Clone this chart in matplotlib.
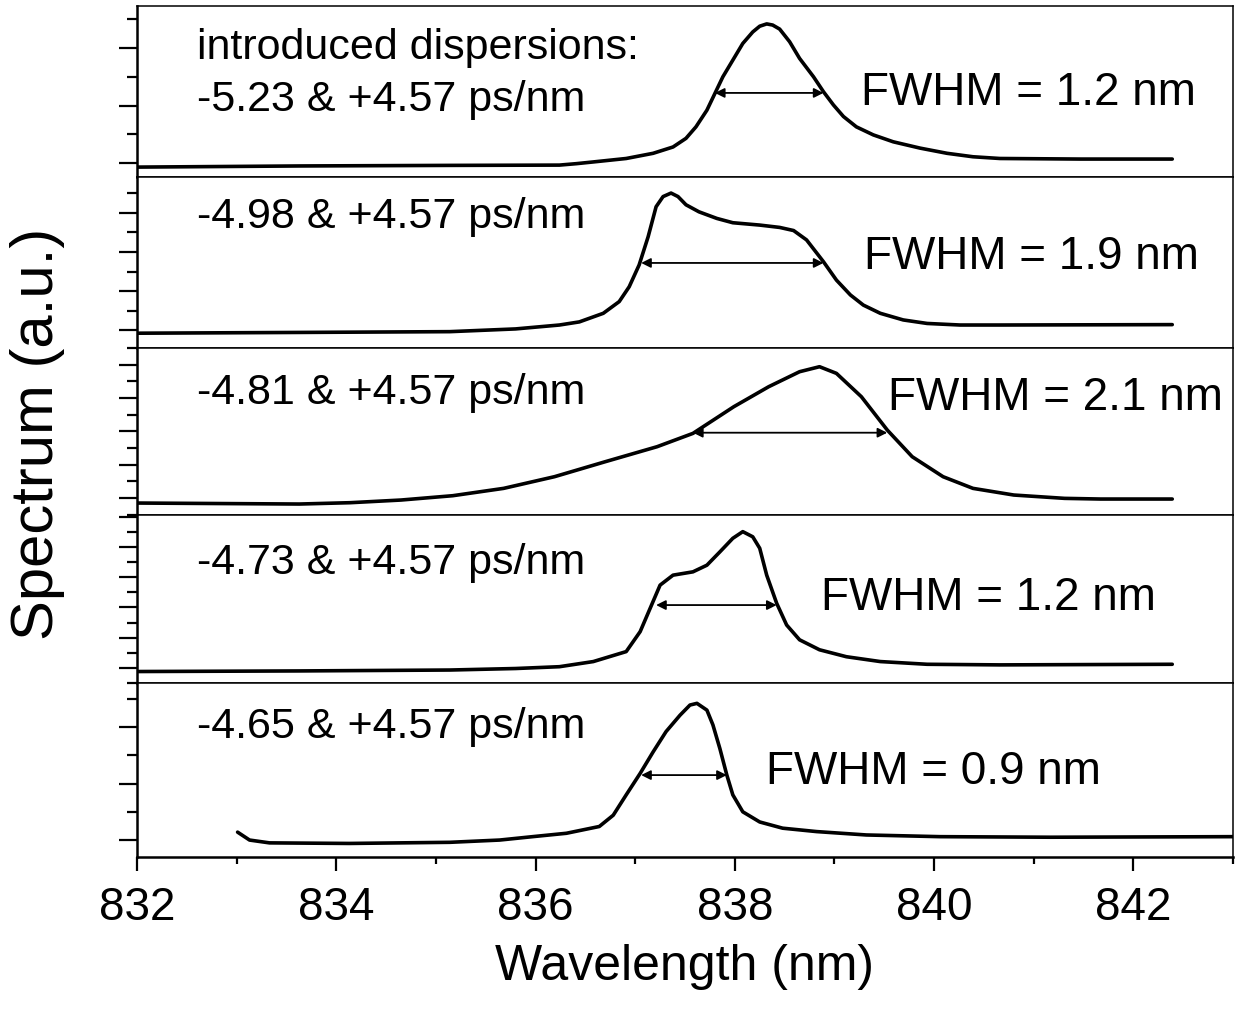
import matplotlib
matplotlib.use("Agg")
import matplotlib.pyplot as plt  # make plots
from matplotlib.ticker import MultipleLocator

# font like the original (Arial-ish)
plt.rcParams['font.family'] = ['Liberation Sans', 'DejaVu Sans']

# ---- data (wavelength in nm, spectrum in a.u.) ----
wl1 = [831.99, 833.63, 835.14, 836.24, 836.41, 836.58, 836.91, 837.18, 837.38, 837.51, 837.61,
       837.72, 837.80, 837.88, 837.98, 838.08, 838.18, 838.25, 838.32, 838.38, 838.45,
       838.55, 838.65, 838.79, 838.89, 838.99, 839.09, 839.22, 839.39, 839.59, 839.86,
       840.13, 840.39, 840.66, 841.47, 842.39]
sp1 = [-0.07, -0.05, -0.04, -0.035, -0.01, 0.02, 0.08, 0.17, 0.28, 0.43, 0.63,
       0.92, 1.21, 1.50, 1.79, 2.08, 2.28, 2.38, 2.42, 2.40, 2.33,
       2.11, 1.82, 1.50, 1.24, 1.01, 0.81, 0.63, 0.49, 0.37, 0.26,
       0.17, 0.11, 0.08, 0.07, 0.07]

wl2 = [831.99, 833.63, 835.14, 835.80, 836.24, 836.44, 836.68, 836.84, 836.94, 837.04, 837.13,
       837.21, 837.28, 837.36, 837.43, 837.51, 837.64, 837.82, 837.98, 838.25, 838.45,
       838.59, 838.72, 838.89, 839.02, 839.16, 839.29, 839.46, 839.69, 839.93, 840.26,
       840.66, 842.39]
sp2 = [-0.08, -0.06, -0.04, 0.03, 0.13, 0.21, 0.43, 0.73, 1.11, 1.67, 2.39,
       3.16, 3.42, 3.51, 3.42, 3.21, 3.03, 2.86, 2.75, 2.69, 2.63,
       2.55, 2.31, 1.75, 1.28, 0.90, 0.64, 0.43, 0.26, 0.17, 0.13,
       0.13, 0.14]

wl3 = [831.99, 833.63, 834.14, 834.65, 835.17, 835.68, 836.19, 836.70, 837.22, 837.58,
       837.99, 838.34, 838.65, 838.85, 839.02, 839.27, 839.53, 839.78, 840.09, 840.39,
       840.80, 841.31, 841.67, 842.39]
sp3 = [-0.15, -0.18, -0.14, -0.06, 0.07, 0.29, 0.64, 1.09, 1.54, 1.94,
       2.74, 3.34, 3.79, 3.94, 3.74, 3.04, 2.04, 1.24, 0.64, 0.29,
       0.09, -0.01, -0.03, -0.03]

wl4 = [831.99, 833.63, 835.14, 835.80, 836.24, 836.58, 836.91, 837.05, 837.15, 837.25, 837.38,
       837.58, 837.72, 837.85, 837.98, 838.08, 838.18, 838.25, 838.32, 838.42, 838.52,
       838.65, 838.85, 839.12, 839.46, 839.93, 840.66, 842.39]
sp4 = [-0.12, -0.10, -0.07, -0.02, 0.04, 0.21, 0.54, 1.20, 1.97, 2.74, 3.07,
       3.18, 3.40, 3.84, 4.29, 4.51, 4.34, 3.96, 3.07, 2.14, 1.42,
       0.93, 0.60, 0.37, 0.21, 0.12, 0.10, 0.12]

wl5 = [833.01, 833.13, 833.33, 834.13, 835.14, 835.64, 835.97, 836.31, 836.64, 836.78,
       836.91, 837.05, 837.18, 837.31, 837.45, 837.55, 837.62, 837.72, 837.78, 837.85,
       837.92, 837.98, 838.08, 838.25, 838.48, 838.82, 839.32, 840.06, 841.17, 843.0]
sp5 = [0.14, 0.0, -0.05, -0.06, -0.04, 0.0, 0.06, 0.12, 0.24, 0.44,
       0.80, 1.18, 1.56, 1.92, 2.21, 2.39, 2.42, 2.30, 2.04, 1.62,
       1.15, 0.80, 0.50, 0.32, 0.21, 0.15, 0.09, 0.06, 0.05, 0.06]

wavelengths = [wl1, wl2, wl3, wl4, wl5]
spectra = [sp1, sp2, sp3, sp4, sp5]

# FWHM arrows: left edge, right edge, height
fwhm_left = [837.80, 837.06, 837.58, 837.21, 837.06]
fwhm_right = [838.89, 838.89, 839.53, 838.42, 837.92]
fwhm_level = [1.22, 1.72, 1.96, 2.08, 1.15]

dispersion_labels = ["-5.23 & +4.57 ps/nm", "-4.98 & +4.57 ps/nm", "-4.81 & +4.57 ps/nm",
                     "-4.73 & +4.57 ps/nm", "-4.65 & +4.57 ps/nm"]
fwhm_labels = ["FWHM = 1.2 nm", "FWHM = 1.9 nm", "FWHM = 2.1 nm",
               "FWHM = 1.2 nm", "FWHM = 0.9 nm"]

# ---- layout of each panel ----
y_limits = [(-0.243, 2.73), (-0.46, 3.92), (-0.51, 4.50), (-0.50, 5.06), (-0.30, 2.78)]
heights = [171, 171, 167, 168, 174]
disp_y = [0.45, 0.766, 0.73, 0.714, 0.747]
fwhm_x = [0.661, 0.663, 0.685, 0.624, 0.574]
fwhm_y = [0.49, 0.532, 0.70, 0.506, 0.489]

fig, axes = plt.subplots(5, 1, figsize=(12.36, 10.13), dpi=100, sharex=True,
                         gridspec_kw={'height_ratios': heights, 'hspace': 0})
fig.subplots_adjust(left=0.1108, right=0.9976, top=0.994, bottom=0.154)

for i, ax in enumerate(axes):
    # spectrum curve
    ax.plot(wavelengths[i], spectra[i], color='black', linewidth=2.6,
            solid_joinstyle='round', solid_capstyle='round')

    # FWHM double arrow
    ax.annotate("", xy=(fwhm_left[i], fwhm_level[i]), xytext=(fwhm_right[i], fwhm_level[i]),
                arrowprops=dict(arrowstyle='<|-|>', color='black', lw=1.3,
                                mutation_scale=14, shrinkA=0, shrinkB=0))

    # labels
    ax.text(0.055, disp_y[i], dispersion_labels[i], transform=ax.transAxes,
            fontsize=31, va='center', ha='left')
    ax.text(fwhm_x[i], fwhm_y[i], fwhm_labels[i], transform=ax.transAxes,
            fontsize=33, va='center', ha='left')

    ax.set_ylim(*y_limits[i])
    ax.set_xlim(832, 843)

    # y ticks: outward, no labels
    ax.yaxis.set_major_locator(MultipleLocator(1))
    ax.yaxis.set_minor_locator(MultipleLocator(0.5))
    ax.tick_params(axis='y', which='major', direction='out', length=13, width=1.6, labelleft=False)
    ax.tick_params(axis='y', which='minor', direction='out', length=7, width=1.6)
    ax.tick_params(axis='x', which='both', bottom=False, labelbottom=False)

    for side in ['top', 'right']:
        ax.spines[side].set_linewidth(1.1)
    ax.spines['left'].set_linewidth(1.8)
    ax.spines['bottom'].set_linewidth(1.1)

# extra first line in the top panel
axes[0].text(0.055, 0.754, "introduced dispersions:", transform=axes[0].transAxes,
             fontsize=31, va='center', ha='left')

# bottom axis ticks
bottom = axes[-1]
bottom.spines['bottom'].set_linewidth(1.8)
bottom.xaxis.set_major_locator(MultipleLocator(2))
bottom.xaxis.set_minor_locator(MultipleLocator(1))
bottom.tick_params(axis='x', which='both', bottom=True, labelbottom=True)
bottom.tick_params(axis='x', which='major', direction='out', length=10, width=1.6,
                   labelsize=33, pad=11)
bottom.tick_params(axis='x', which='minor', direction='out', length=5, width=1.6)
bottom.set_xlabel("Wavelength (nm)", fontsize=36, labelpad=10)

# shared y label
fig.text(0.03, 0.572, "Spectrum (a.u.)", rotation=90, fontsize=43,
         va='center', ha='center')

plt.savefig("out.png", dpi=100)
